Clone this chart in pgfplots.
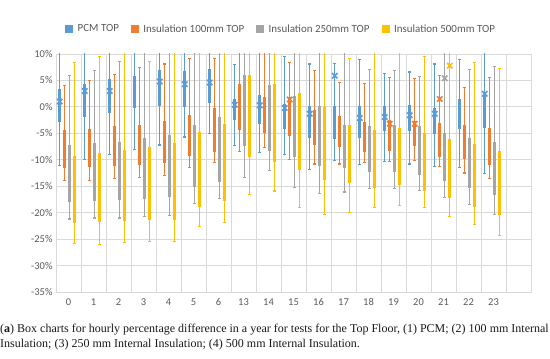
\documentclass[border=0pt]{standalone}
\usepackage{pgfplots}
\pgfplotsset{compat=1.18}
\usepackage{pgfplotstable}
\usepgfplotslibrary{statistics}
\usepackage{fontspec}
\setmainfont{Liberation Serif}
\newfontfamily\carlito{Carlito}
\definecolor{pcm}{HTML}{5B9BD5}
\definecolor{inA}{HTML}{ED7D31}
\definecolor{inB}{HTML}{A5A5A5}
\definecolor{inC}{HTML}{FFC000}
\definecolor{gridgray}{HTML}{D9D9D9}
\definecolor{labgray}{HTML}{595959}

% columns: lower whisker, lower quartile, median, upper quartile, upper whisker (in %)
\pgfplotstableread{
lw lq med uq uw
-11.0 -2.8 0.5 3.3 12
-10.0 -1.8 0.2 4.2 12
-9.0 -1.1 0.8 5.1 12
-8.0 -0.2 1.8 5.8 12
-7.2 0.2 2.7 6.8 12
-5.7 0.0 3.0 6.6 12
-5.0 0.8 3.0 7.0 12
-7.3 -2.4 -0.5 1.4 8.0
-8.7 -3.1 -1.0 2.2 12
-9.0 -4.1 -1.5 0.5 9.6
-11.8 -5.7 -2.2 0.0 8.1
-10.1 -5.9 -2.5 0.1 8.2
-10.9 -5.7 -3.0 0.0 8.9
-10.4 -4.4 -2.9 0.0 6.3
-10.8 -4.4 -2.7 0.3 6.6
-11.3 -5.1 -3.2 -0.3 8.1
-11.5 -4.0 -1.5 1.3 8.9
-12.6 -3.8 -0.8 2.8 12
}\pcmdata
\pgfplotstableread{
lw lq med uq uw
-14.0 -11.5 -9.0 -4.4 4.0
-13.9 -11.3 -8.7 -4.2 5.0
-13.6 -11.1 -8.3 -3.8 6.1
-13.4 -10.9 -8.0 -3.5 7.5
-13.0 -10.5 -7.7 -2.7 8.1
-11.4 -9.2 -6.1 -1.6 9.1
-10.6 -8.4 -5.4 -0.4 9.2
-8.5 -4.2 -0.7 4.2 12
-7.6 -4.9 -2.4 1.7 12
-10.0 -5.4 -3.3 1.8 8.4
-10.8 -7.1 -4.7 -0.6 6.9
-10.8 -7.4 -5.3 -1.8 4.6
-10.5 -8.5 -5.8 -3.0 4.4
-10.4 -8.2 -6.0 -2.5 5.5
-10.1 -7.3 -5.7 -2.8 5.4
-11.3 -9.3 -6.8 -3.2 5.9
-12.5 -9.8 -7.6 -3.5 3.7
-13.5 -10.8 -9.2 -4.1 5.5
}\inAdata
\pgfplotstableread{
lw lq med uq uw
-21.2 -17.8 -13.7 -7.4 6.0
-21.0 -17.7 -13.7 -7.0 6.9
-21.0 -17.5 -13.4 -6.8 8.5
-20.8 -17.3 -12.9 -5.9 12
-20.5 -17.0 -12.6 -5.5 12
-18.3 -15.1 -10.0 -3.5 12
-17.4 -14.1 -9.0 -2.0 12
-13.3 -7.3 -1.8 6.0 12
-12.0 -8.2 -4.4 4.0 12
-15.3 -9.4 -5.7 2.0 12
-16.3 -11.1 -7.3 0.0 12
-16.1 -11.4 -8.5 -3.5 12
-15.5 -12.3 -9.2 -3.8 7.0
-15.5 -12.2 -8.5 -3.5 6.8
-15.8 -12.7 -8.9 -3.8 5.8
-17.2 -14.0 -9.7 -5.1 12
-18.5 -15.2 -11.2 -6.0 7.0
-20.3 -16.5 -12.7 -6.8 7.6
}\inBdata
\pgfplotstableread{
lw lq med uq uw
-25.8 -21.8 -16.6 -9.4 8.4
-26.0 -21.7 -16.4 -8.8 9.6
-25.6 -21.5 -16.1 -8.3 12
-25.5 -21.3 -16.0 -7.7 8.5
-25.4 -21.3 -15.5 -7.0 12
-22.6 -18.9 -12.7 -4.9 12
-21.8 -17.7 -11.6 -3.3 12
-16.5 -9.4 -2.7 5.9 12
-15.9 -10.4 -5.4 4.3 12
-19.0 -11.8 -7.0 2.5 12
-20.4 -13.7 -9.2 -0.1 12
-19.9 -14.2 -10.1 -3.5 9.2
-19.1 -15.2 -11.1 -4.4 12
-18.7 -14.6 -10.1 -4.1 12
-19.1 -15.8 -10.1 -5.1 9.5
-20.7 -17.1 -12.2 -6.2 12
-22.2 -18.8 -14.0 -7.1 8.4
-24.3 -20.3 -15.5 -8.4 7.3
}\inCdata

% visible mean markers
\pgfplotstableread{
x m
-0.35 1.0
0.65 3.0
1.65 3.0
3.65 4.8
4.65 4.3
5.65 4.6
6.65 0.4
7.65 0.3
8.65 -0.2
9.65 -1.3
10.65 5.9
11.65 -2.1
12.65 -1.9
13.65 -1.6
14.65 -1.3
16.65 2.5
}\pcmmean
\pgfplotstableread{
x m
8.85 1.4
12.85 -3.2
13.85 -3.2
14.85 1.5
}\inAmean
\pgfplotstableread{
x m
15.05 5.4
}\inBmean
\pgfplotstableread{
x m
15.25 7.8
}\inCmean

\pgfplotsset{
  bxs/.style={draw=#1, line width=1.1bp, solid, forget plot,
    boxplot/draw direction=y,
    boxplot/box extend=0.08, boxplot/whisker extend=0.12,
    boxplot/every box/.style={fill=#1, draw=#1},
    boxplot/every whisker/.style={draw=#1},
    boxplot/every median/.style={draw=#1, line width=1.1bp}},
  mns/.style={only marks, mark=x, mark size=3.8bp, line width=1.6bp, color=#1, forget plot},
  sq/.style={legend image code/.code={\fill[#1] (0bp,-3.5bp) rectangle (7bp,3.5bp); \path (10bp,0bp);}},
}

% #1 table, #2 row, #3 colour, #4 offset of the draw position
\newcommand{\bxrow}[4]{%
  \pgfplotstablegetelem{#2}{lw}\of#1\let\vlw\pgfplotsretval
  \pgfplotstablegetelem{#2}{lq}\of#1\let\vlq\pgfplotsretval
  \pgfplotstablegetelem{#2}{med}\of#1\let\vmed\pgfplotsretval
  \pgfplotstablegetelem{#2}{uq}\of#1\let\vuq\pgfplotsretval
  \pgfplotstablegetelem{#2}{uw}\of#1\let\vuw\pgfplotsretval
  \pgfmathsetmacro\vpos{#2+#4}%
  \edef\tmp{\noexpand\addplot[bxs=#3, boxplot prepared={draw position=\vpos,
     lower whisker=\vlw, lower quartile=\vlq, median=\vmed,
     upper quartile=\vuq, upper whisker=\vuw}] coordinates {};}%
  \tmp
}

\begin{document}
\begin{tikzpicture}
\useasboundingbox (0,0) rectangle (550bp,359bp);
\begin{axis}[
  at={(56bp,67bp)}, anchor=south west,
  width=475bp, height=238bp, scale only axis,
  xmin=-0.5, xmax=18.5, ymin=-35, ymax=10,
  xtick={0,...,17},
  xticklabels={0,1,2,3,4,5,6,13,14,15,16,17,18,19,20,21,22,23},
  minor xtick={-0.5,0.5,...,18.5},
  xminorgrids, ymajorgrids,
  ytick={-35,-30,-25,-20,-15,-10,-5,0,5,10},
  yticklabels={-35\%,-30\%,-25\%,-20\%,-15\%,-10\%,-5\%,0\%,5\%,10\%},
  major tick length=0pt, minor tick length=0pt,
  axis line style={draw=gridgray, line width=0.8bp},
  major grid style={draw=gridgray, line width=0.8bp},
  minor grid style={draw=gridgray, line width=0.8bp},
  tick label style={font=\carlito\fontsize{10.5}{12}\selectfont, text=labgray},
  xticklabel style={yshift=-3bp},
  boxplot/draw/box/.code={%
     \draw[/pgfplots/boxplot/every box/.try]
       (boxplot box cs:\pgfplotsboxplotvalue{lower quartile},0) rectangle
       (boxplot box cs:\pgfplotsboxplotvalue{upper quartile},1);
     \draw[/pgfplots/boxplot/every median/.try]
       (boxplot box cs:\pgfplotsboxplotvalue{lower quartile},-0.3) --
       (boxplot box cs:\pgfplotsboxplotvalue{lower quartile},1.3)
       (boxplot box cs:\pgfplotsboxplotvalue{upper quartile},-0.3) --
       (boxplot box cs:\pgfplotsboxplotvalue{upper quartile},1.3);},
  boxplot/draw/median/.code={\draw[/pgfplots/boxplot/every median/.try]
     (boxplot box cs:\pgfplotsboxplotvalue{median},-0.3) --
     (boxplot box cs:\pgfplotsboxplotvalue{median},1.3);},
  legend style={draw=none, fill=none, at={(0.474,1.105)}, anchor=center,
    font=\carlito\fontsize{11}{12}\selectfont, text=labgray,
    /tikz/every even column/.append style={column sep=10bp}},
  legend columns=-1,
]
\addlegendimage{sq=pcm}
\addlegendentry{PCM TOP}
\addlegendimage{sq=inA}
\addlegendentry{Insulation 100mm TOP}
\addlegendimage{sq=inB}
\addlegendentry{Insulation 250mm TOP}
\addlegendimage{sq=inC}
\addlegendentry{Insulation 500mm TOP}

\pgfplotsinvokeforeach{0,...,17}{\bxrow{\pcmdata}{#1}{pcm}{-0.35}}
\pgfplotsinvokeforeach{0,...,17}{\bxrow{\inAdata}{#1}{inA}{-0.15}}
\pgfplotsinvokeforeach{0,...,17}{\bxrow{\inBdata}{#1}{inB}{0.05}}
\pgfplotsinvokeforeach{0,...,17}{\bxrow{\inCdata}{#1}{inC}{0.25}}
\addplot[mns=pcm] table[x=x, y=m] {\pcmmean};
\addplot[mns=inA] table[x=x, y=m] {\inAmean};
\addplot[mns=inB] table[x=x, y=m] {\inBmean};
\addplot[mns=inC] table[x=x, y=m] {\inCmean};
\end{axis}
\node[anchor=base west, inner sep=0pt, font=\fontsize{12.05}{13}\selectfont, text=black!90] at (0bp,27bp)
  {(\textbf{a}) Box charts for hourly percentage difference in a year for tests for the Top Floor, (1) PCM; (2) 100 mm Internal};
\node[anchor=base west, inner sep=0pt, font=\fontsize{12.05}{13}\selectfont, text=black!90] at (0bp,11.3bp)
  {Insulation; (3) 250 mm Internal Insulation; (4) 500 mm Internal Insulation.};
\end{tikzpicture}
\end{document}
